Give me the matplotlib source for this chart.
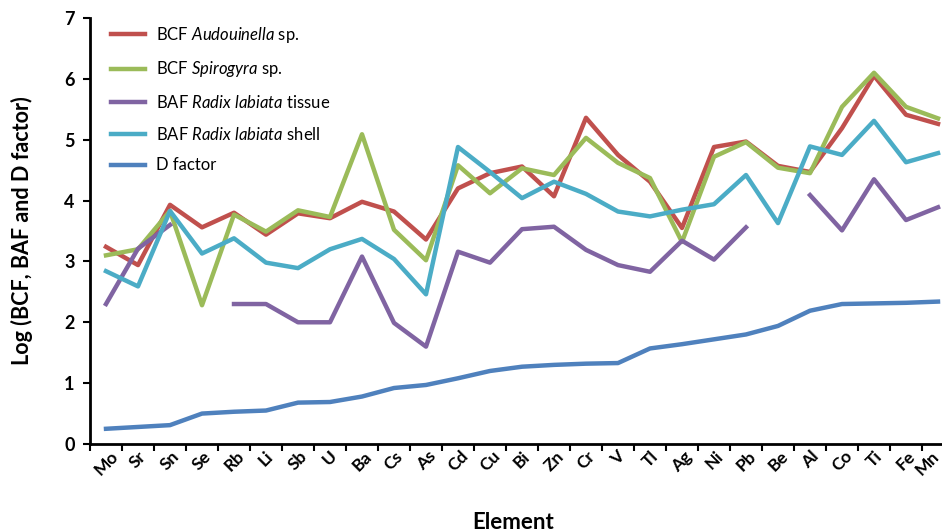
import numpy as np
import matplotlib
matplotlib.use('Agg')
import matplotlib.pyplot as plt
import matplotlib.transforms as mtransforms

plt.rcParams['font.family'] = ['Lato', 'DejaVu Sans']
plt.rcParams['mathtext.fontset'] = 'custom'
plt.rcParams['mathtext.rm'] = 'Lato'
plt.rcParams['mathtext.it'] = 'Lato:italic'

elements = ['Mo', 'Sr', 'Sn', 'Se', 'Rb', 'Li', 'Sb', 'U', 'Ba', 'Cs', 'As', 'Cd', 'Cu', 'Bi',
            'Zn', 'Cr', 'V', 'Tl', 'Ag', 'Ni', 'Pb', 'Be', 'Al', 'Co', 'Ti', 'Fe', 'Mn']

bcf_audouinella = [3.24, 2.94, 3.93, 3.56, 3.80, 3.44, 3.79, 3.71, 3.98, 3.82, 3.36, 4.20, 4.45, 4.56,
                   4.07, 5.36, 4.75, 4.31, 3.55, 4.88, 4.97, 4.57, 4.47, 5.19, 6.05, 5.41, 5.26]
bcf_spirogyra = [3.10, 3.20, 3.83, 2.28, 3.77, 3.49, 3.84, 3.73, 5.09, 3.52, 3.02, 4.58, 4.12, 4.53,
                 4.42, 5.03, 4.62, 4.37, 3.32, 4.72, 4.96, 4.54, 4.45, 5.54, 6.10, 5.54, 5.35]
baf_tissue = [2.30, 3.21, 3.60, np.nan, 2.30, 2.30, 2.00, 2.00, 3.08, 1.99, 1.60, 3.16, 2.98, 3.53,
              3.57, 3.19, 2.94, 2.83, 3.34, 3.03, 3.56, np.nan, 4.09, 3.51, 4.35, 3.68, 3.89]
baf_shell = [2.84, 2.59, 3.83, 3.13, 3.38, 2.98, 2.89, 3.20, 3.37, 3.04, 2.46, 4.88, 4.47, 4.04,
             4.31, 4.11, 3.82, 3.74, 3.85, 3.94, 4.42, 3.63, 4.89, 4.75, 5.31, 4.63, 4.78]
d_factor = [0.25, 0.28, 0.31, 0.50, 0.53, 0.55, 0.68, 0.69, 0.78, 0.92, 0.97, 1.08, 1.20, 1.27,
            1.30, 1.32, 1.33, 1.57, 1.64, 1.72, 1.80, 1.94, 2.19, 2.30, 2.31, 2.32, 2.34]

fig = plt.figure(figsize=(9.42, 5.32), dpi=100)
ax = fig.add_axes([90 / 942, 88 / 532, 864 / 942, 426 / 532])

x = np.arange(len(elements))
lw = 3.2
ax.plot(x, bcf_audouinella, color='#C0504D', lw=lw, label=r'BCF $\it{Audouinella}$ sp.')
ax.plot(x, bcf_spirogyra, color='#9BBB59', lw=lw, label=r'BCF $\it{Spirogyra}$ sp.')
ax.plot(x, baf_tissue, color='#8064A2', lw=lw, label=r'BAF $\it{Radix\ labiata}$ tissue')
ax.plot(x, baf_shell, color='#4BACC6', lw=lw, label=r'BAF $\it{Radix\ labiata}$ shell')
ax.plot(x, d_factor, color='#4F81BD', lw=lw, label='D factor')

ax.set_xlim(-0.5, len(elements) - 0.5)
ax.set_ylim(0, 7)
ax.set_yticks(range(8))
ax.set_xticks(np.arange(-0.5, len(elements)), labels=[])
ax.set_xticks(x, minor=True)
ax.set_xticklabels(elements, minor=True, rotation=45, ha='center', fontsize=12.5, fontweight='bold')
ax.tick_params(axis='x', which='minor', length=0, pad=3)
ax.tick_params(axis='x', which='major', length=5, width=1.5, direction='out')
ax.tick_params(axis='y', length=5, width=1.5, labelsize=13, pad=6)
for t in ax.get_yticklabels():
    t.set_fontweight('bold')

# last label sits on the right edge, pull it in so it stays on the canvas
last = ax.get_xticklabels(minor=True)[-1]
last.set_transform(last.get_transform() + mtransforms.ScaledTranslation(-11 / 100, 0, fig.dpi_scale_trans))

for s in ['top', 'right']:
    ax.spines[s].set_visible(False)
for s in ['left', 'bottom']:
    ax.spines[s].set_linewidth(2)

ax.set_ylabel('Log (BCF, BAF and D factor)', fontsize=15.5, fontweight='bold')
ax.yaxis.set_label_coords(-0.066, 0.5)
ax.set_xlabel('Element', fontsize=16, fontweight='bold')
ax.xaxis.set_label_coords(0.49, -0.16)

ax.legend(loc='upper left', bbox_to_anchor=(0.017, 1.0), frameon=False, fontsize=12,
          handlelength=2.0, labelspacing=0.88, handletextpad=0.7, borderaxespad=0.0)

fig.savefig('out.png', dpi=100)
